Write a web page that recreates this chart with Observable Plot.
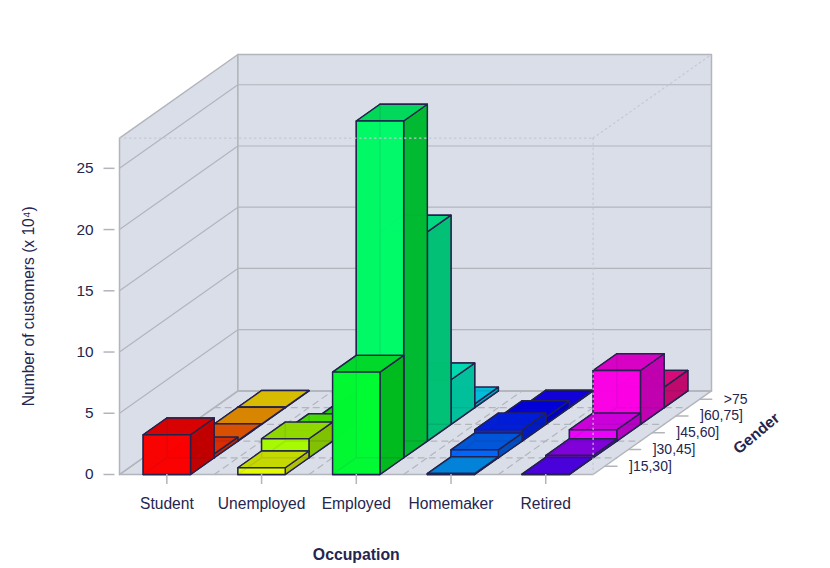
<!DOCTYPE html>
<html>
<head>
<meta charset="utf-8">
<style>html,body{margin:0;padding:0;background:#fff}svg{display:block}</style>
<script src="https://cdn.jsdelivr.net/npm/d3@7"></script>
<script src="https://cdn.jsdelivr.net/npm/@observablehq/plot@0.6"></script>
</head>
<body>
<script>
const occupations = ["Student", "Unemployed", "Employed", "Homemaker", "Retired"];
const genderBins = ["]15,30]", "]30,45]", "]45,60]", "]60,75]", ">75"];
const yTicks = [0, 5, 10, 15, 20, 25];

// customers (x 10^4), one list per occupation, ordered by the gender bins
const student    = [3.25, 0.32, 0.05, 0.03, 0.03];
const unemployed = [0.55, 1.55, 0.87, 0.10, 0.03];
const employed   = [8.36, 27.5, 17.08, 3.64, 0.31];
const homemaker  = [0.08, 0.65, 0.92, 0.56, 0.05];
const retired    = [0.03, 0.19, 0.92, 4.40, 1.68];
const series = [student, unemployed, employed, homemaker, retired];

const palette = [
  ["#ff0000", "#ff3300", "#ff5e00", "#ff9e00", "#ffdd00"],
  ["#e8ff00", "#aaff00", "#55ff00", "#1eff00", "#00ff10"],
  ["#00ff33", "#00ff6a", "#00ff99", "#00ffcc", "#00ddff"],
  ["#0099ff", "#0066ff", "#0022ff", "#0000ff", "#1000ff"],
  ["#5500ff", "#9500ff", "#f000ff", "#ff00e8", "#ff0a90"]
];
// the two tall green bars have a greener side than plain shading gives
const sideColors = {"2,0": "#00b81c", "2,1": "#00b82c"};

const zMax = 27.47;          // top of the box, in value units
const depthX = 0.25;         // shift of one gender bin, in occupation units
const depthZ = 1.365;        // rise of one gender bin, in value units
const nC = occupations.length, nR = genderBins.length;
const xMax = nC + nR * depthX, yMax = zMax + nR * depthZ;

const P = (c, r, z) => ({x: c + depthX * r, y: z + depthZ * r});
const shade = (col, k) => { const q = d3.rgb(col); return d3.rgb(q.r * k, q.g * k, q.b * k).formatHex(); };

let pid = 0;
function poly(list, pts, color) {
  const id = pid++;
  [...pts, pts[0]].forEach(p => list.push({...p, id, color}));
}

// Bars, back to front, each one back faces first
const faces = [];
for (let r = nR - 1; r >= 0; r--) {
  for (let c = 0; c < nC; c++) {
    const v = series[c][r], col = palette[c][r];
    const side = sideColors[c + "," + r] || shade(col, 0.75);
    const a = c + 0.25, b = c + 0.75, f = r, k = r + 1;
    poly(faces, [P(a, k, 0), P(b, k, 0), P(b, k, v), P(a, k, v)], shade(col, 0.8));
    poly(faces, [P(a, f, 0), P(a, k, 0), P(a, k, v), P(a, f, v)], side);
    poly(faces, [P(a, f, 0), P(b, f, 0), P(b, k, 0), P(a, k, 0)], shade(col, 0.8));
    poly(faces, [P(b, f, 0), P(b, k, 0), P(b, k, v), P(b, f, v)], side);
    poly(faces, [P(a, f, v), P(b, f, v), P(b, k, v), P(a, k, v)], shade(col, 0.85));
    poly(faces, [P(a, f, 0), P(b, f, 0), P(b, f, v), P(a, f, v)], col);
  }
}

// Box panes
const panes = [];
poly(panes, [P(0, 0, 0), P(nC, 0, 0), P(nC, nR, 0), P(0, nR, 0)], "#dadee8");
poly(panes, [P(0, 0, 0), P(0, nR, 0), P(0, nR, zMax), P(0, 0, zMax)], "#dadee8");
poly(panes, [P(0, nR, 0), P(nC, nR, 0), P(nC, nR, zMax), P(0, nR, zMax)], "#dadee8");

// Grid
const seg = (list, p, q) => { const id = pid++; list.push({...p, id}, {...q, id}); };
const grid = [], floorGrid = [], dotted = [], genderTicks = [];
yTicks.forEach(t => { seg(grid, P(0, 0, t), P(0, nR, t)); seg(grid, P(0, nR, t), P(nC, nR, t)); });
d3.range(1, nC).forEach(c => seg(floorGrid, P(c, 0, 0), P(c, nR, 0)));
d3.range(1, nR).forEach(r => seg(floorGrid, P(0, r, 0), P(nC, r, 0)));
seg(dotted, P(0, 0, zMax), P(nC, 0, zMax));
seg(dotted, P(nC, 0, 0), P(nC, 0, zMax));
seg(dotted, P(nC, 0, zMax), P(nC, nR, zMax));

const genderRows = genderBins.map((label, r) => ({label, ...P(nC, r + 0.5, 0)}));
genderRows.forEach(g => seg(genderTicks, g, {x: g.x + 0.127, y: g.y}));

const gray = "#b3b5bc", ink = "#25254f";
const chart = Plot.plot({
  width: 830, height: 568,
  marginLeft: 119, marginRight: 119, marginTop: 54, marginBottom: 94,
  x: {domain: [0, xMax]},
  y: {domain: [0, yMax]},
  style: {fontFamily: "'Liberation Sans', Arial, sans-serif", background: "transparent"},
  marks: [
    Plot.line(panes, {x: "x", y: "y", z: "id", fill: "color", stroke: gray, strokeWidth: 1.5}),
    Plot.line(grid, {x: "x", y: "y", z: "id", stroke: gray, strokeWidth: 1.2}),
    Plot.line(floorGrid, {x: "x", y: "y", z: "id", stroke: gray, strokeWidth: 1.2, strokeDasharray: "6,5"}),
    Plot.line(faces, {x: "x", y: "y", z: "id", fill: "color", fillOpacity: 0.9, stroke: "#23234e", strokeWidth: 1.4}),
    Plot.line(dotted, {x: "x", y: "y", z: "id", stroke: "#c4c8d0", strokeWidth: 1.2, strokeDasharray: "1.5,3.5"}),
    Plot.axisY(yTicks, {label: null, anchor: "left", fill: "none", stroke: gray, strokeWidth: 1.5, tickSize: 11, dx: -4.5}),
    Plot.axisY(yTicks, {label: null, anchor: "left", stroke: "none", fill: ink, fontSize: 15.4, tickSize: 0, tickPadding: 26}),
    Plot.axisX(d3.range(nC).map(c => c + 0.5), {label: null, anchor: "bottom", fill: "none", stroke: gray, strokeWidth: 1.5, tickSize: 10}),
    Plot.axisX(d3.range(nC).map(c => c + 0.5), {label: null, anchor: "bottom", stroke: "none", fill: ink, fontSize: 15.6, tickSize: 0, tickPadding: 23, tickFormat: v => occupations[Math.floor(v)]}),
    Plot.line(genderTicks, {x: "x", y: "y", z: "id", stroke: gray, strokeWidth: 1.5}),
    Plot.text(genderRows, {x: d => d.x + 0.254, y: "y", text: "label", textAnchor: "start", fill: ink, fontSize: 14}),
    Plot.text(["Number of customers (x 10\u2074)"], {y: zMax / 2, frameAnchor: "left", textAnchor: "middle", dx: -91, rotate: -90, fill: ink, fontSize: 15.6}),
    Plot.text(["Occupation"], {x: nC / 2, frameAnchor: "bottom", dy: 85, fill: ink, fontSize: 15.8, fontWeight: "bold"}),
    Plot.text(["Gender"], {x: nC + nR * depthX + 0.475, y: 3.35, rotate: -40, fill: ink, fontSize: 15.6, fontWeight: "bold"})
  ]
});
document.body.appendChild(chart);
</script>
</body>
</html>
